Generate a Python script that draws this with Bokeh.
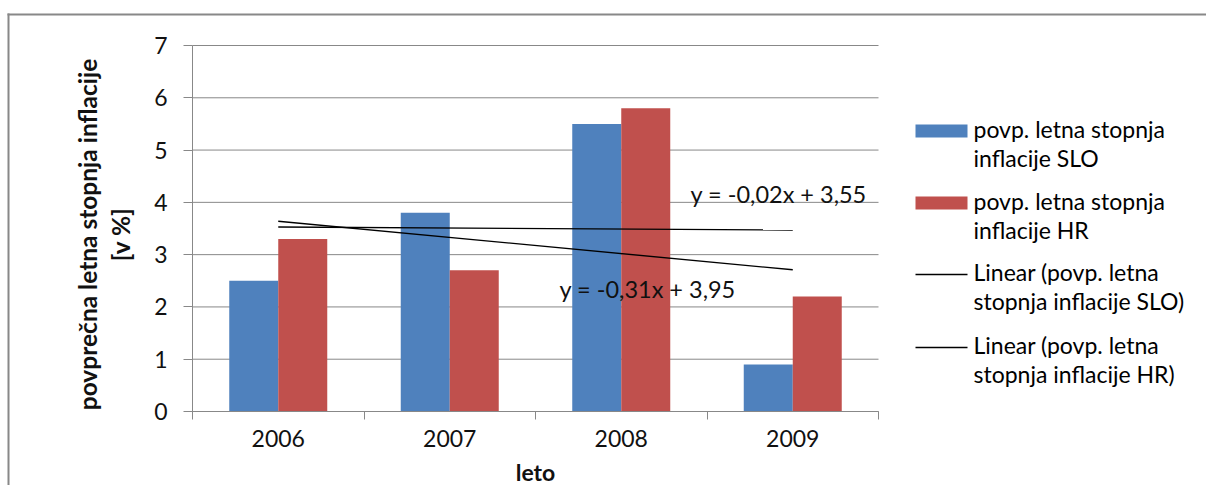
import numpy as np
from math import pi

from bokeh.plotting import figure
from bokeh.models import (ColumnDataSource, Range1d, FixedTicker, Label,
                          BoxAnnotation, LinearAxis)
from bokeh.embed import file_html
from bokeh.resources import INLINE

# --- data -------------------------------------------------------------
years = ["2006", "2007", "2008", "2009"]
slo = [2.5, 3.8, 5.5, 0.9]      # povp. letna stopnja inflacije SLO
hr = [3.3, 2.7, 5.8, 2.2]       # povp. letna stopnja inflacije HR
y_ticks = [0, 1, 2, 3, 4, 5, 6, 7]

legend_slo = ["povp. letna stopnja", "inflacije SLO"]
legend_hr = ["povp. letna stopnja", "inflacije HR"]
legend_lin_slo = ["Linear (povp. letna", "stopnja inflacije SLO)"]
legend_lin_hr = ["Linear (povp. letna", "stopnja inflacije HR)"]
y_title = ["povprečna letna stopnja inflacije", "[v %]"]
x_title = "leto"

# --- styling ------------------------------------------------------------
BLUE = "#4F81BD"
RED = "#C0504D"
GRID = "#888888"
TEXT = "#111111"
FONT = "Lato"

W, H = 1206, 485
FL, FR, FT, FB = 192, 878, 45, 411   # plot-area edges on the canvas
BASE_FIX = -10                       # text-box baseline adjustment for labels

n = len(years)
YMAX = y_ticks[-1]
px_x = (FR - FL) / n          # pixels per category
px_y = (FB - FT) / YMAX       # pixels per percent

# the frame covers the whole canvas; axes sit at fixed data locations
x_range = Range1d(0.5 - FL / px_x, n + 0.5 + (W - FR) / px_x)
y_range = Range1d(-(H - FB) / px_y, YMAX + FT / px_y)


def sx(x):
    return x


def sy(y):
    return H - y


xs = np.arange(1, n + 1, dtype=float)
bw = 2 / 7  # two bars per category, 150 % gap

src = ColumnDataSource(dict(x_slo=xs - bw / 2, x_hr=xs + bw / 2, slo=slo, hr=hr))

p = figure(width=W, height=H, x_range=x_range, y_range=y_range,
           x_axis_type=None, y_axis_type=None, title=None,
           output_backend="svg", toolbar_location=None,
           min_border=0)
p.outline_line_color = None
p.background_fill_color = "white"
p.border_fill_color = "white"

# horizontal gridlines across the plot area only
p.segment(x0=0.5, x1=n + 0.5, y0=y_ticks, y1=y_ticks, line_color=GRID, line_width=1)

p.vbar(x="x_slo", top="slo", width=bw, source=src, fill_color=BLUE, line_color=None)
p.vbar(x="x_hr", top="hr", width=bw, source=src, fill_color=RED, line_color=None)

# linear trend lines
fit_slo = np.polyfit(xs, slo, 1)
fit_hr = np.polyfit(xs, hr, 1)
ends = xs[[0, -1]]
p.line(ends, np.polyval(fit_slo, ends), line_color="black", line_width=1.4)
p.line(ends, np.polyval(fit_hr, ends), line_color="black", line_width=1.4)


def eq_text(fit):
    m, b = fit
    return f"y = {m:.2f}x + {b:.2f}".replace(".", ",")


# axes
xa = LinearAxis(fixed_location=0, bounds=(0.5, n + 0.5))
xa.ticker = FixedTicker(ticks=list(xs), minor_ticks=list(np.arange(0.5, n + 1, 1.0)))
xa.major_label_overrides = {int(v): y for v, y in zip(xs, years)}
xa.major_tick_line_color = None
xa.major_tick_out = 0
xa.major_tick_in = 0
xa.minor_tick_out = 8
xa.minor_tick_in = 0
xa.minor_tick_line_color = GRID
xa.axis_line_color = GRID
xa.major_label_standoff = 10
xa.major_label_text_font = FONT
xa.major_label_text_font_size = "23px"
xa.major_label_text_color = TEXT
xa.axis_label = x_title
xa.axis_label_text_font = FONT
xa.axis_label_text_font_style = "bold"
xa.axis_label_text_font_size = "23px"
xa.axis_label_text_color = TEXT
xa.axis_label_standoff = 8
p.add_layout(xa, "below")

ya = LinearAxis(fixed_location=0.5, bounds=(0, YMAX))
ya.ticker = FixedTicker(ticks=y_ticks)
ya.major_tick_out = 9
ya.major_tick_in = 0
ya.minor_tick_line_color = None
ya.major_tick_line_color = GRID
ya.axis_line_color = GRID
ya.major_label_standoff = 16
ya.major_label_text_font = FONT
ya.major_label_text_font_size = "23px"
ya.major_label_text_color = TEXT
p.add_layout(ya, "left")

# y-axis title, two lines
for text, cx in zip(y_title, [87, 120]):
    p.add_layout(Label(x=sx(cx), y=sy(234), x_units="screen", y_units="screen",
                       text=text, angle=pi / 2, text_align="center",
                       text_baseline="middle", text_font=FONT,
                       text_font_style="bold", text_font_size="24.5px",
                       text_color=TEXT))

# trend-line equations
p.add_layout(Label(x=sx(690), y=sy(203 + BASE_FIX), x_units="screen", y_units="screen",
                   text=eq_text(fit_hr), text_font=FONT, text_font_size="23.5px",
                   text_color=TEXT, text_baseline="alphabetic"))
p.add_layout(Label(x=sx(559), y=sy(298 + BASE_FIX), x_units="screen", y_units="screen",
                   text=eq_text(fit_slo), text_font=FONT, text_font_size="23.5px",
                   text_color=TEXT, text_baseline="alphabetic"))


# legend
def box(left, right, top, bottom, color):
    return BoxAnnotation(left=sx(left), right=sx(right), top=sy(top), bottom=sy(bottom),
                         left_units="screen", right_units="screen",
                         top_units="screen", bottom_units="screen",
                         fill_color=color, fill_alpha=1.0, line_color=None)


entries = [
    (legend_slo, 138, ("bar", BLUE)),
    (legend_hr, 210, ("bar", RED)),
    (legend_lin_slo, 281, ("line", "black")),
    (legend_lin_hr, 354, ("line", "black")),
]
for lines, base, (kind, color) in entries:
    if kind == "bar":
        p.add_layout(box(915, 967, base - 14, base - 1, color))
    else:
        p.add_layout(box(915, 967, base - 7.7, base - 6.3, color))
    for i, t in enumerate(lines):
        p.add_layout(Label(x=sx(973), y=sy(base + 29 * i + BASE_FIX), x_units="screen",
                           y_units="screen", text=t, text_font=FONT,
                           text_font_size="23px", text_color="black",
                           text_baseline="alphabetic"))

# chart-area border (top and left edges)
p.add_layout(box(7, 9, 13, H + 5, "#888888"))
p.add_layout(box(7, W + 5, 13, 15, "#888888"))

open("out.html", "w").write(file_html(p, INLINE))
